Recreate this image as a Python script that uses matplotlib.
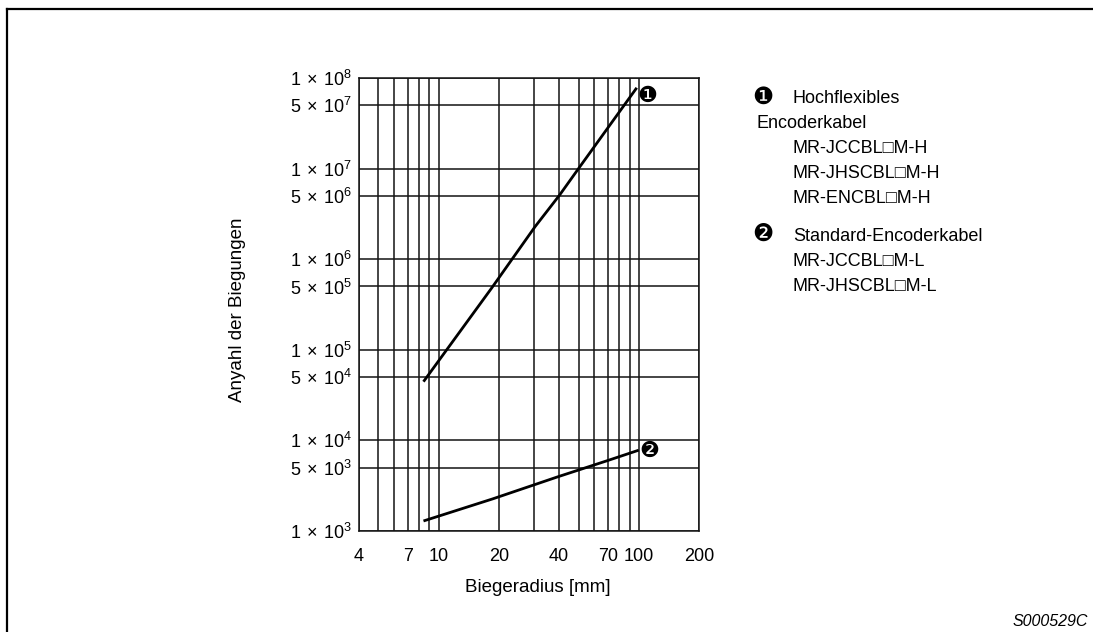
import matplotlib
matplotlib.use('Agg')
import matplotlib.pyplot as plt
from matplotlib.lines import Line2D
from matplotlib.ticker import NullLocator

plt.rcParams['font.family'] = ['Liberation Sans', 'DejaVu Sans']
plt.rcParams['mathtext.fontset'] = 'custom'
plt.rcParams['mathtext.rm'] = 'Liberation Sans'

W, H = 1093, 632

# curve 1: hochflexibles Encoderkabel
radius_h = [8.4, 18.4, 30.3, 40.2, 49.5, 97.7]
cycles_h = [4.45e4, 4.8e5, 2.28e6, 5.1e6, 9.7e6, 7.8e7]

# curve 2: Standard-Encoderkabel
radius_s = [8.4, 18.6, 39.6, 69.4, 100]
cycles_s = [1290, 2260, 3980, 5960, 7800]

x_grid = [4, 5, 6, 7, 8, 9, 10, 20, 30, 40, 50, 60, 70, 80, 90, 100, 200]
x_shown = [4, 7, 10, 20, 40, 70, 100, 200]
y_mant = [1, 5, 1, 5, 1, 5, 1, 5, 1, 5, 1]
y_exp = [3, 3, 4, 4, 5, 5, 6, 6, 7, 7, 8]

legend_lines = [
    ('Hochflexibles', 793, 103),
    ('Encoderkabel', 756, 128),
    ('MR-JCCBL\u25a1M-H', 793, 153),
    ('MR-JHSCBL\u25a1M-H', 793, 178),
    ('MR-ENCBL\u25a1M-H', 793, 203),
    ('Standard-Encoderkabel', 793, 241),
    ('MR-JCCBL\u25a1M-L', 793, 266),
    ('MR-JHSCBL\u25a1M-L', 793, 291),
]


def fx(x):
    return x / W


def fy(y):
    return 1 - y / H


fig = plt.figure(figsize=(W / 100, H / 100), dpi=100)
ax = fig.add_axes([fx(359), fy(531), 340 / W, 453 / H])

ax.set_xscale('log')
ax.set_yscale('log')
ax.set_xlim(4, 200)
ax.set_ylim(1e3, 1e8)

ax.set_xticks(x_grid)
ax.set_xticklabels([str(v) if v in x_shown else '' for v in x_grid])
y_grid = [m * 10.0 ** e for m, e in zip(y_mant, y_exp)]
ax.set_yticks(y_grid)
ax.set_yticklabels([r'$\mathregular{%d\,\times\,10^{%d}}$' % (m, e)
                    for m, e in zip(y_mant, y_exp)])
ax.xaxis.set_minor_locator(NullLocator())
ax.yaxis.set_minor_locator(NullLocator())

ax.grid(True, which='major', color='#141414', lw=1.1)
ax.set_axisbelow(True)
for s in ax.spines.values():
    s.set_color('#141414')
    s.set_linewidth(1.1)
ax.tick_params(axis='both', length=0, labelsize=13)
ax.tick_params(axis='x', pad=12)
ax.tick_params(axis='y', pad=5)

ax.plot(radius_h, cycles_h, color='black', lw=2.0, solid_capstyle='butt')
ax.plot(radius_s, cycles_s, color='black', lw=2.0, solid_capstyle='butt')

ax.annotate('\u2776', xy=(radius_h[-1], cycles_h[-1]), xytext=(7.5, -5.5),
            textcoords='offset points', ha='center', va='center', fontsize=16,
            family=['DejaVu Sans'])
ax.annotate('\u2777', xy=(radius_s[-1], cycles_s[-1]), xytext=(7.5, -0.8),
            textcoords='offset points', ha='center', va='center', fontsize=16,
            family=['DejaVu Sans'])

fig.text(fx(538), fy(592), 'Biegeradius [mm]', ha='center', va='baseline', fontsize=13.5)
fig.text(fx(238), fy(310), 'Anyahl der Biegungen', ha='center', va='center',
         rotation=90, fontsize=13.5)

# legend block on the right
fig.text(fx(763), fy(97), '\u2776', ha='center', va='center', fontsize=17,
         family=['DejaVu Sans'])
fig.text(fx(763), fy(234), '\u2777', ha='center', va='center', fontsize=17,
         family=['DejaVu Sans'])
for txt, x, y in legend_lines:
    fig.text(fx(x), fy(y), txt, ha='left', va='baseline', fontsize=13)

fig.text(fx(1088), fy(626), 'S000529C', ha='right', va='baseline', fontsize=11.5,
         style='italic')

# frame
fig.add_artist(Line2D([fx(7), 1.0], [fy(9), fy(9)], transform=fig.transFigure,
                      color='black', lw=1.6))
fig.add_artist(Line2D([fx(7), fx(7)], [fy(9), 0.0], transform=fig.transFigure,
                      color='black', lw=1.6))

fig.savefig('out.png', dpi=100)
